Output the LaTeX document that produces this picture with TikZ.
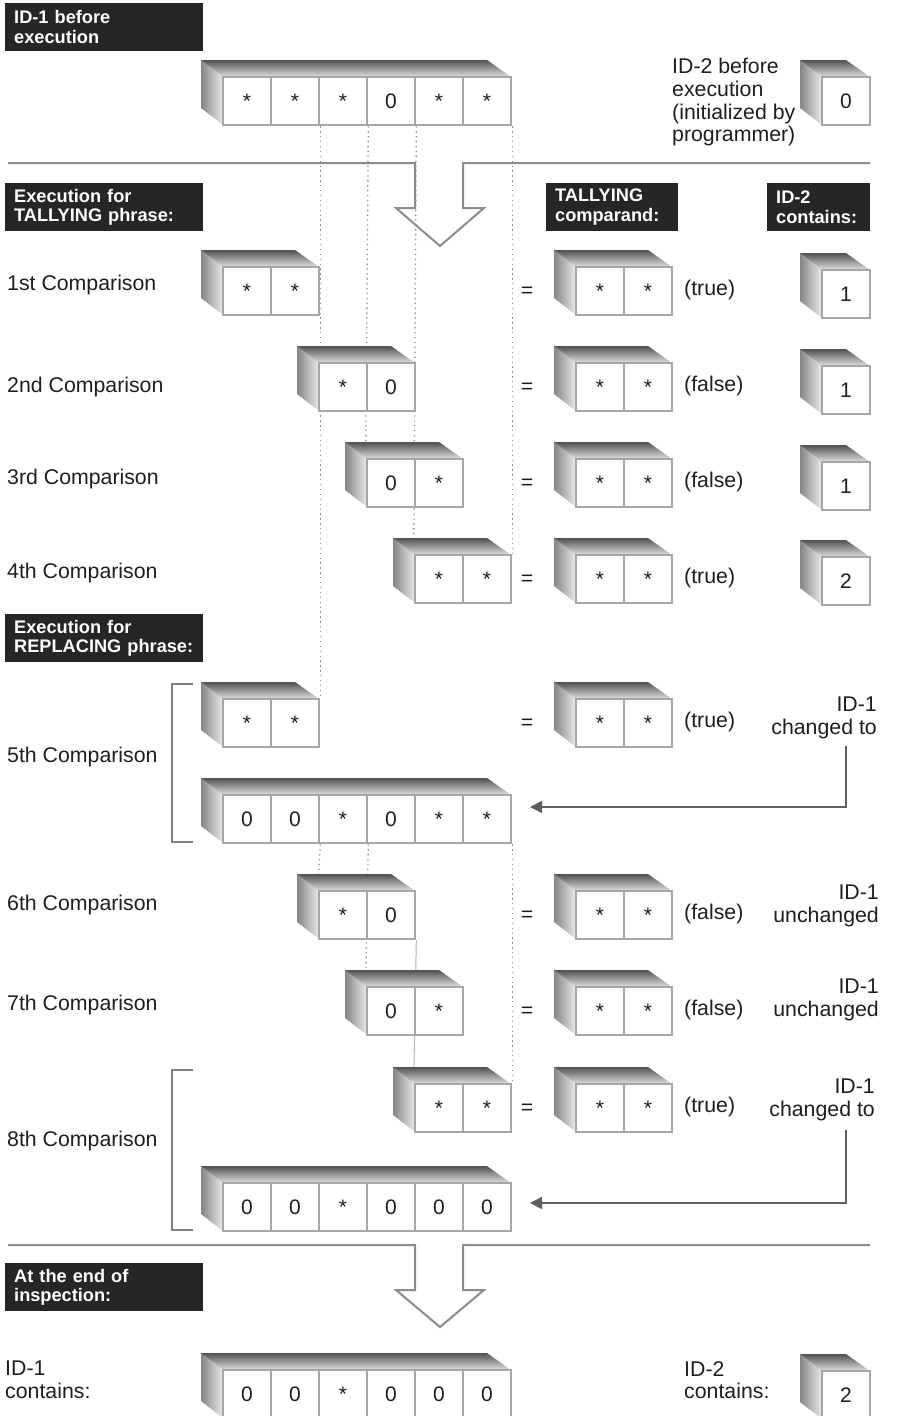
\documentclass[tikz,border=0pt]{standalone}
\usepackage{fontspec}
\setmainfont{Liberation Sans}
\usetikzlibrary{arrows.meta,calc}
\pgfdeclarelayer{background}
\pgfsetlayers{background,main}
\definecolor{hdr}{RGB}{40,37,38}
\definecolor{edgegray}{RGB}{166,166,166}
\definecolor{conngray}{RGB}{95,95,95}
\definecolor{txt}{RGB}{30,30,30}
\newcommand{\memrow}[5]{%
  \pgfmathsetmacro\rowlen{48*#4}%
  \shade[left color=black!48, right color=black!8] (#2-22,#3-17) -- (#2,#3) -- (#2,#3+48) -- (#2-22,#3+31) -- cycle;
  \shade[top color=black!68, bottom color=black!12] (#2-22,#3-17) -- (#2+\rowlen-24,#3-17) -- (#2+\rowlen,#3) -- (#2,#3) -- cycle;
  \foreach \v [count=\i] in {#5} {\node[cell] (#1-\i) at (#2+48*\i-24,#3+24) {\v};}%
}
\begin{document}
\begin{tikzpicture}[x=1pt,y=-1pt,
  cell/.style={draw=edgegray, line width=2.6pt, fill=white, minimum width=48pt, minimum height=48pt, inner sep=0pt, text=txt, font=\fontsize{21}{22}\selectfont},
  lbl/.style={inner sep=0pt, text=txt, font=\fontsize{21.3}{22.7}\selectfont},
  hdrbox/.style={fill=hdr, text=white, font=\bfseries\fontsize{18.2}{19.8}\selectfont, align=left, anchor=north west, inner xsep=9pt, inner ysep=0pt, minimum height=48pt, text width=#1},
  dots/.style={draw=black!45, line width=1.3pt, dash pattern=on 1.3pt off 3.6pt},
  hollow/.style={draw=black!45, line width=2pt, line join=miter},
  brk/.style={draw=black!50, line width=1.5pt},
  conn/.style={draw=conngray, line width=1.5pt, -{Triangle[length=12pt,width=12pt]}}
]
\useasboundingbox (0,0) rectangle (898,1416);

% headers
\node[hdrbox=180pt] (h1) at (5,3) {ID-1 before\\execution};
\node[hdrbox=180pt] (h2) at (5,183) {Execution for\\TALLYING phrase:};
\node[hdrbox=114pt] (h3) at (546,183) {TALLYING\\comparand:};
\node[hdrbox=85pt] (h4) at (767,183) {ID-2\\contains:};
\node[hdrbox=180pt] (h5) at (5,614) {Execution for\\REPLACING phrase:};
\node[hdrbox=180pt] (h6) at (5,1263) {At the end of\\inspection:};

% top
\memrow{t}{223}{77}{6}{*,*,*,0,*,*}
\memrow{ida}{822}{77}{1}{0}
\node[lbl, anchor=north west, align=left] (idtxt) at (672,58) {ID-2 before\\execution\\(initialized by\\programmer)};

% hollow arrows
\draw[hollow] (8,163) -- (415,163) -- (415,208) -- (396,208) -- (440,246) -- (484,208) -- (463,208) -- (463,163) -- (870,163);
\draw[hollow] (8,1245) -- (415,1245) -- (415,1290) -- (396,1290) -- (440,1327) -- (484,1290) -- (463,1290) -- (463,1245) -- (870,1245);

% comparison rows
\memrow{ra}{223}{267}{2}{*,*}
\memrow{rb}{319}{363}{2}{*,0}
\memrow{rc}{367}{459}{2}{0,*}
\memrow{rd}{415}{555}{2}{*,*}
\memrow{re}{223}{699}{2}{*,*}
\memrow{be}{223}{795}{6}{0,0,*,0,*,*}
\memrow{rf}{319}{891}{2}{*,0}
\memrow{rg}{367}{987}{2}{0,*}
\memrow{rh}{415}{1084}{2}{*,*}
\memrow{bh}{223}{1183}{6}{0,0,*,0,0,0}
\memrow{fin}{223}{1370}{6}{0,0,*,0,0,0}

% tallying comparands
\memrow{ta}{576}{267}{2}{*,*}
\memrow{tb}{576}{363}{2}{*,*}
\memrow{tc}{576}{459}{2}{*,*}
\memrow{td}{576}{555}{2}{*,*}
\memrow{te}{576}{699}{2}{*,*}
\memrow{tf}{576}{891}{2}{*,*}
\memrow{tg}{576}{987}{2}{*,*}
\memrow{th}{576}{1084}{2}{*,*}

% ID-2 contents
\memrow{ia}{822}{270}{1}{1}
\memrow{ib}{822}{366}{1}{1}
\memrow{ic}{822}{462}{1}{1}
\memrow{id}{822}{557}{1}{2}
\memrow{ifin}{822}{1371}{1}{2}

% row labels
\node[lbl, anchor=west] (la) at (7,285) {1st Comparison};
\node[lbl, anchor=west] (lb) at (7,387) {2nd Comparison};
\node[lbl, anchor=west] (lc) at (7,479) {3rd Comparison};
\node[lbl, anchor=west] (ld) at (7,573) {4th Comparison};
\node[lbl, anchor=west] (le) at (7,757) {5th Comparison};
\node[lbl, anchor=west] (lf) at (7,905) {6th Comparison};
\node[lbl, anchor=west] (lg) at (7,1005) {7th Comparison};
\node[lbl, anchor=west] (lh) at (7,1141) {8th Comparison};

% equals
\foreach \n/\y in {ea/292, eb/388, ec/484, ed/580, ee/724, ef/916, eg/1012, eh/1109}
  \node[lbl] (\n) at (527,\y) {=};

% results
\node[lbl, anchor=west] (va) at (684,290) {(true)};
\node[lbl, anchor=west] (vb) at (684,386) {(false)};
\node[lbl, anchor=west] (vc) at (684,482) {(false)};
\node[lbl, anchor=west] (vd) at (684,578) {(true)};
\node[lbl, anchor=west] (ve) at (684,722) {(true)};
\node[lbl, anchor=west] (vf) at (684,914) {(false)};
\node[lbl, anchor=west] (vg) at (684,1010) {(false)};
\node[lbl, anchor=west] (vh) at (684,1107) {(true)};

\node[lbl, anchor=east, align=right] (ce) at (877,718) {ID-1\\changed to};
\node[lbl, anchor=east, align=right] (cf) at (879,906) {ID-1\\unchanged};
\node[lbl, anchor=east, align=right] (cg) at (879,1000) {ID-1\\unchanged};
\node[lbl, anchor=east, align=right] (ch) at (875,1100) {ID-1\\changed to};

\node[lbl, anchor=west, align=left] (endA) at (5,1380) {ID-1\\contains:};
\node[lbl, anchor=west, align=left] (endB) at (684,1380) {ID-2\\contains:};

% brackets
\draw[brk] (193,684) -- (172,684) -- (172,842) -- (193,842);
\draw[brk] (193,1070) -- (172,1070) -- (172,1230) -- (193,1230);

% change arrows
\coordinate (se) at (846,746);
\coordinate (te) at (530,807);
\coordinate (sh) at (846,1130);
\coordinate (tt) at (530,1203);
\draw[conn] (se) |- (te);
\draw[conn] (sh) |- (tt);

% dotted guides
\begin{pgfonlayer}{background}
\draw[dots] (t-2.south east) -- (re-2.north east);
\draw[dots] (t-3.south east) -- (rc-1.north west);
\draw[dots] (t-4.south east) -- (rd-1.north west);
\draw[dots] (t-6.south east) -- (rd-2.north east);
\draw[dots] (be-2.south east) -- (rf-1.north west);
\draw[dots] (be-3.south east) -- (rg-1.north west);
\draw[dots] (be-6.south east) -- (rh-2.north east);
\draw[draw=black!30, line width=1pt] (rf-2.south east) -- (rh-1.north west);
\end{pgfonlayer}
\end{tikzpicture}
\end{document}
